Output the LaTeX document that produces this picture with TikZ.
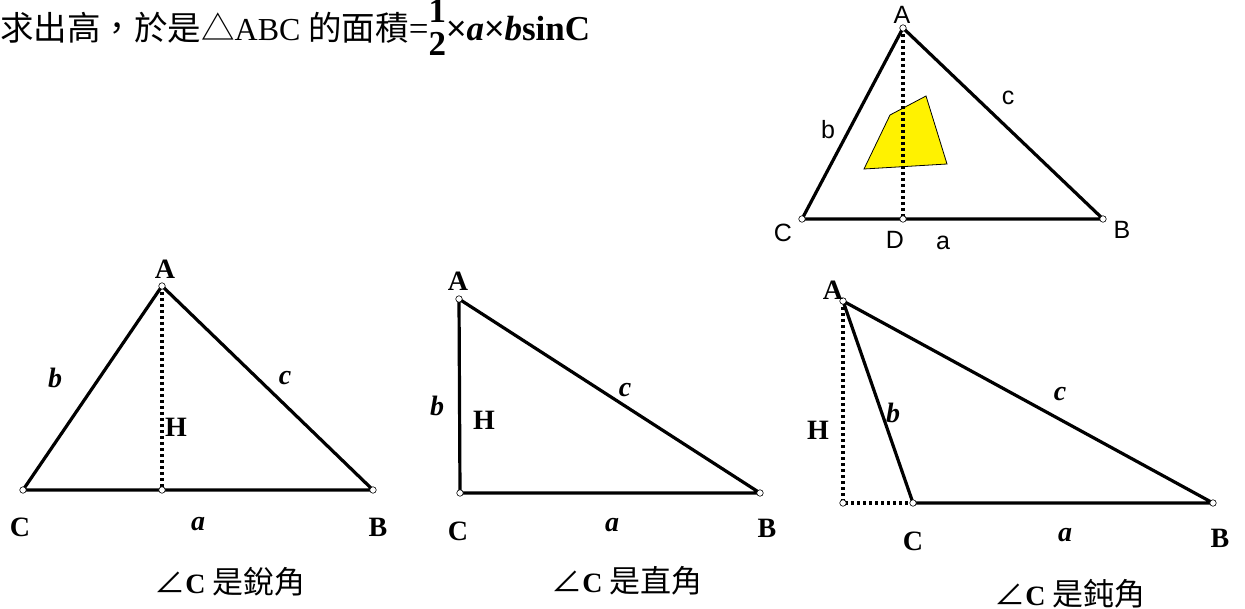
\documentclass[tikz,border=0pt]{standalone}
\usepackage{fontspec}
\setmainfont{Liberation Serif}
\newfontfamily\cjk{Noto Sans CJK TC}
\newfontfamily\arialfont{Liberation Sans}
\tikzset{
  side/.style={draw=black,line width=3.2pt,line join=round},
  dotline/.style={draw=black,line width=3.4pt,dash pattern=on 3pt off 3pt},
  vtx/.style={circle,draw=black,fill=white,line width=0.6pt,inner sep=0pt,minimum size=6.5pt},
  glbl/.style={inner sep=0pt,font=\arialfont\fontsize{25}{30}\selectfont},
  tlbl/.style={inner sep=0pt,font=\bfseries\fontsize{28}{33.6}\selectfont},
  slbl/.style={inner sep=0pt,font=\bfseries\itshape\fontsize{28}{33.6}\selectfont},
  angtxt/.style={inner sep=0pt,anchor=base,font=\fontsize{28}{33.6}\selectfont},
}
\newcommand{\cjkbig}{\cjk\fontsize{31}{37}\selectfont}
\newcommand{\cjktop}{\cjk\fontsize{33.5}{40}\selectfont}
\newcommand{\mulsign}{{\arialfont ×}}
\begin{document}
\begin{tikzpicture}[x=1pt,y=-1pt]
\path[use as bounding box] (0,0) rectangle (1245,609);
\node[inner sep=0pt,anchor=base west,font=\fontsize{32}{38.4}\selectfont] (intro) at (0,41) {{\cjktop 求出高，於是△}ABC {\cjktop 的面積}{\fontsize{35}{42}\selectfont=\raisebox{18pt}{\rlap{\textbf{1}}}\raisebox{-15pt}{\textbf{2}}\mulsign\textbf{\textit{a}}\mulsign\textbf{\textit{b}sinC}}};
% top right
\coordinate (gA) at (903,28);
\coordinate (gC) at (802,219);
\coordinate (gD) at (903,219);
\coordinate (gB) at (1103,219);
\path[fill=yellow,draw=black,line width=0.8pt] (890,115) -- (926,96) -- (947,164) -- (864,169) -- cycle;
\draw[side] (gC) -- (gA) -- (gB) -- cycle;
\draw[dotline] (gA) -- (gD);
\foreach \p in {gA,gC,gD,gB} \node[vtx] at (\p) {};
\node[glbl] (gAl) at (902,15) {A};
\node[glbl] (gbl) at (828,130) {b};
\node[glbl] (gcl) at (1008,98) {c};
\node[glbl] (gCl) at (783,233) {C};
\node[glbl] (gDl) at (895,240) {D};
\node[glbl] (gal) at (943,243) {a};
\node[glbl] (gBl) at (1122,230) {B};
% acute
\coordinate (pA) at (162,286);
\coordinate (pC) at (23,490);
\coordinate (pH) at (162,490);
\coordinate (pB) at (373,490);
\draw[side] (pC) -- (pA) -- (pB) -- cycle;
\draw[dotline] (pA) -- (pH);
\foreach \p in {pA,pC,pH,pB} \node[vtx] at (\p) {};
\node[tlbl] (pAl) at (165,269) {A};
\node[slbl] (pbl) at (55,378) {b};
\node[slbl] (pcl) at (285,378) {c};
\node[tlbl] (pHl) at (176,427) {H};
\node[tlbl] (pCl) at (20,527) {C};
\node[slbl] (pal) at (198,524) {a};
\node[tlbl] (pBl) at (378,527) {B};
\node[angtxt] (pcap) at (230,593) {{\cjkbig ∠}\textbf{C} {\cjkbig 是銳角}};
% right
\coordinate (qA) at (459,299);
\coordinate (qC) at (460,493);
\coordinate (qB) at (760,493);
\draw[side] (qC) -- (qA) -- (qB) -- cycle;
\foreach \p in {qA,qC,qB} \node[vtx] at (\p) {};
\node[tlbl] (qAl) at (458,281) {A};
\node[slbl] (qbl) at (437,406) {b};
\node[tlbl] (qHl) at (484,420) {H};
\node[slbl] (qcl) at (625,390) {c};
\node[tlbl] (qCl) at (458,531) {C};
\node[slbl] (qal) at (612,525) {a};
\node[tlbl] (qBl) at (767,528) {B};
\node[angtxt] (qcap) at (627,592) {{\cjkbig ∠}\textbf{C} {\cjkbig 是直角}};
% obtuse
\coordinate (rA) at (843,301);
\coordinate (rF) at (843,503);
\coordinate (rC) at (913,503);
\coordinate (rB) at (1213,503);
\draw[side] (rC) -- (rA) -- (rB) -- cycle;
\draw[dotline] (rA) -- (rF) -- (rC);
\foreach \p in {rA,rF,rC,rB} \node[vtx] at (\p) {};
\node[tlbl] (rAl) at (833,290) {A};
\node[tlbl] (rHl) at (818,430) {H};
\node[slbl] (rbl) at (893,413) {b};
\node[slbl] (rcl) at (1060,394) {c};
\node[tlbl] (rCl) at (913,541) {C};
\node[slbl] (ral) at (1065,535) {a};
\node[tlbl] (rBl) at (1220,538) {B};
\node[angtxt] (rcap) at (1070,605) {{\cjkbig ∠}\textbf{C} {\cjkbig 是鈍角}};
\end{tikzpicture}
\end{document}
